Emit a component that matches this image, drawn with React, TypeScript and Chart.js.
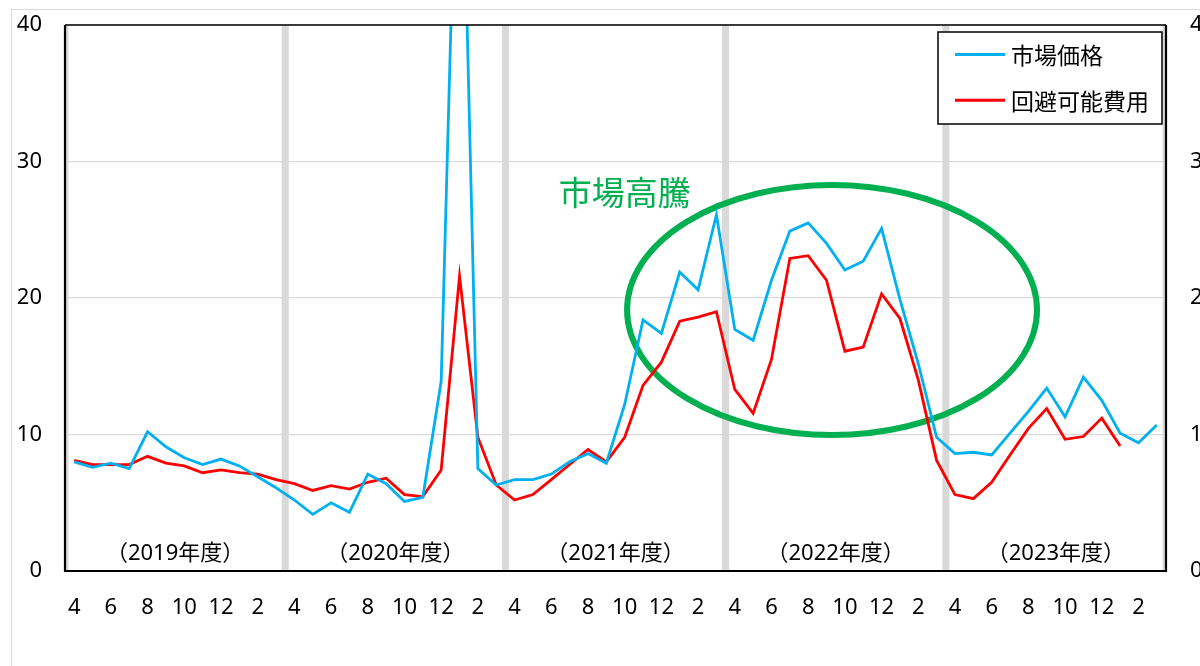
import React, { useEffect, useRef } from "react";
import { Chart, registerables } from "chart.js";

Chart.register(...registerables);

// Categories: months from April 2019 to March 2024
const MONTHS: string[] = [
  "4", "5", "6", "7", "8", "9", "10", "11", "12", "1", "2", "3",
  "4", "5", "6", "7", "8", "9", "10", "11", "12", "1", "2", "3",
  "4", "5", "6", "7", "8", "9", "10", "11", "12", "1", "2", "3",
  "4", "5", "6", "7", "8", "9", "10", "11", "12", "1", "2", "3",
  "4", "5", "6", "7", "8", "9", "10", "11", "12", "1", "2", "3",
];

const FISCAL_YEARS: string[] = ["（2019年度）", "（2020年度）", "（2021年度）", "（2022年度）", "（2023年度）"];

// 市場価格
const MARKET_PRICE: (number | null)[] = [
  8.0, 7.6, 7.9, 7.5, 10.2, 9.1, 8.3, 7.8, 8.2, 7.7, 6.9, 6.1,
  5.2, 4.15, 5.0, 4.3, 7.1, 6.4, 5.1, 5.4, 13.9, 63.0, 7.5, 6.3,
  6.7, 6.7, 7.1, 8.0, 8.6, 7.9, 12.2, 18.4, 17.4, 21.9, 20.6, 26.1,
  17.7, 16.9, 21.3, 24.9, 25.5, 24.0, 22.05, 22.7, 25.1, 19.9, 15.2, 9.8,
  8.6, 8.7, 8.5, 10.1, 11.7, 13.4, 11.3, 14.2, 12.5, 10.1, 9.4, 10.7,
];

// 回避可能費用
const AVOIDABLE_COST: (number | null)[] = [
  8.1, 7.8, 7.8, 7.8, 8.4, 7.9, 7.7, 7.2, 7.4, 7.2, 7.1, 6.7,
  6.4, 5.9, 6.25, 6.0, 6.5, 6.8, 5.6, 5.45, 7.4, 21.6, 9.8, 6.3,
  5.2, 5.6, 6.7, 7.8, 8.9, 8.0, 9.8, 13.6, 15.3, 18.3, 18.6, 19.0,
  13.3, 11.55, 15.5, 22.9, 23.1, 21.3, 16.1, 16.4, 20.3, 18.5, 14.0, 8.1,
  5.6, 5.3, 6.5, 8.5, 10.45, 11.9, 9.65, 9.85, 11.2, 9.15, null, null,
];

const Y_MIN = 0;
const Y_MAX = 40;
const Y_STEP = 10;

const LATIN_FONT = "'Noto Sans', 'Noto Sans CJK JP', sans-serif";
const CJK_FONT = "'Noto Sans CJK JP', 'Noto Sans', sans-serif";

const decorPlugin = {
  id: "decor",
  beforeDatasetsDraw(chart: any) {
    const { ctx, chartArea: a, scales } = chart;
    const x = scales.x;
    const y = scales.y;
    ctx.save();
    ctx.beginPath();
    ctx.rect(a.left, a.top, a.right - a.left, a.bottom - a.top);
    ctx.clip();
    // fiscal year separators
    ctx.fillStyle = "#d9d9d9";
    for (let k = 0; k <= FISCAL_YEARS.length; k++) {
      const px = x.getPixelForValue(k * 12 - 0.5);
      ctx.fillRect(px - 3.5, a.top, 7, a.bottom - a.top);
    }
    // ellipse annotation
    const cx = x.getPixelForValue(41.3);
    const cy = y.getPixelForValue(19.12);
    const rx = Math.abs(x.getPixelForValue(41.3 + 11.17) - cx);
    const ry = Math.abs(y.getPixelForValue(19.12 + 9.16) - cy);
    ctx.beginPath();
    ctx.ellipse(cx, cy, rx, ry, 0, 0, Math.PI * 2);
    ctx.strokeStyle = "#00B050";
    ctx.lineWidth = 6;
    ctx.stroke();
    ctx.restore();

    ctx.save();
    // fiscal year labels
    ctx.fillStyle = "#000";
    ctx.font = `22px ${LATIN_FONT}`;
    ctx.textAlign = "center";
    ctx.textBaseline = "middle";
    FISCAL_YEARS.forEach((lbl, k) => {
      const px = x.getPixelForValue(k * 12 + 5.5);
      ctx.fillText(lbl, px, a.bottom - 17);
    });
    // annotation text
    ctx.fillStyle = "#00B050";
    ctx.font = `33px ${CJK_FONT}`;
    ctx.fillText("市場高騰", x.getPixelForValue(30.0), y.getPixelForValue(27.7));
    ctx.restore();
  },
  afterDatasetsDraw(chart: any) {
    const { ctx, chartArea: a } = chart;
    ctx.save();
    ctx.strokeStyle = "#000";
    ctx.lineWidth = 1.5;
    ctx.beginPath();
    ctx.moveTo(a.left, a.top);
    ctx.lineTo(a.right, a.top);
    ctx.stroke();
    ctx.lineWidth = 2.2;
    ctx.beginPath();
    ctx.moveTo(a.left, a.top);
    ctx.lineTo(a.left, a.bottom);
    ctx.lineTo(a.right, a.bottom);
    ctx.lineTo(a.right, a.top);
    ctx.stroke();
    ctx.restore();
  },
  afterDraw(chart: any) {
    const { ctx, chartArea: a } = chart;
    const w = 224;
    const h = 92;
    const bx = a.right - 4 - w;
    const by = a.top + 7;
    ctx.save();
    ctx.fillStyle = "#fff";
    ctx.fillRect(bx, by, w, h);
    ctx.strokeStyle = "#000";
    ctx.lineWidth = 1.5;
    ctx.strokeRect(bx, by, w, h);
    ctx.font = `23px ${CJK_FONT}`;
    ctx.textBaseline = "middle";
    ctx.textAlign = "left";
    chart.data.datasets.forEach((ds: any, i: number) => {
      const ly = by + 22.6 + i * 45.7;
      ctx.strokeStyle = ds.borderColor;
      ctx.lineWidth = 3;
      ctx.beginPath();
      ctx.moveTo(bx + 17, ly);
      ctx.lineTo(bx + 67, ly);
      ctx.stroke();
      ctx.fillStyle = "#000";
      ctx.fillText(ds.label, bx + 73, ly + 1);
    });
    ctx.restore();
  },
};

export default function App() {
  const canvasRef = useRef<HTMLCanvasElement | null>(null);

  useEffect(() => {
    const canvas = canvasRef.current;
    if (!canvas) return;
    const tickFont = { family: LATIN_FONT, size: 22 };
    const chart = new Chart(canvas, {
      type: "line",
      data: {
        labels: MONTHS,
        datasets: [
          {
            label: "市場価格",
            data: MARKET_PRICE,
            borderColor: "#00B0F0",
            backgroundColor: "#00B0F0",
            borderWidth: 2.8,
            pointRadius: 0,
            tension: 0,
            yAxisID: "y",
          },
          {
            label: "回避可能費用",
            data: AVOIDABLE_COST,
            borderColor: "#FF0000",
            backgroundColor: "#FF0000",
            borderWidth: 2.8,
            pointRadius: 0,
            tension: 0,
            yAxisID: "y",
          },
        ],
      },
      options: {
        responsive: false,
        animation: false,
        layout: { padding: { top: 40, left: 0, right: 0, bottom: 0 } },
        plugins: {
          legend: { display: false },
          tooltip: { enabled: false },
        },
        scales: {
          x: {
            type: "category",
            offset: true,
            grid: { display: false, drawTicks: false },
            border: { display: false },
            ticks: {
              autoSkip: false,
              maxRotation: 0,
              minRotation: 0,
              padding: 24,
              color: "#000",
              font: tickFont,
              callback: (_v: any, i: number) => (i % 2 === 0 ? MONTHS[i] : ""),
            },
            afterFit: (s: any) => {
              s.height = 139;
            },
          },
          y: {
            position: "left",
            min: Y_MIN,
            max: Y_MAX,
            ticks: { stepSize: Y_STEP, padding: 23, color: "#000", font: tickFont },
            grid: { color: "#d9d9d9", lineWidth: 1.3, drawTicks: false },
            border: { display: false },
            afterFit: (s: any) => {
              s.width = 53;
            },
          },
          y1: {
            position: "right",
            min: Y_MIN,
            max: Y_MAX,
            ticks: { stepSize: Y_STEP, padding: 24, color: "#000", font: tickFont },
            grid: { display: false, drawTicks: false },
            border: { display: false },
            afterFit: (s: any) => {
              s.width = 126;
            },
          },
        },
      } as any,
      plugins: [decorPlugin],
    });
    return () => chart.destroy();
  }, []);

  return (
    <div
      style={{
        position: "fixed",
        left: 0,
        top: 0,
        width: 1200,
        height: 666,
        overflow: "hidden",
        background: "#fff",
      }}
    >
      <div
        style={{
          position: "absolute",
          left: 11,
          top: 9,
          width: 1300,
          height: 740,
          border: "1px solid #d9d9d9",
          boxSizing: "border-box",
        }}
      >
        <canvas
          ref={canvasRef}
          width={1280}
          height={725}
          style={{ position: "absolute", left: 0, top: -25, width: 1280, height: 725 }}
        />
      </div>
    </div>
  );
}
